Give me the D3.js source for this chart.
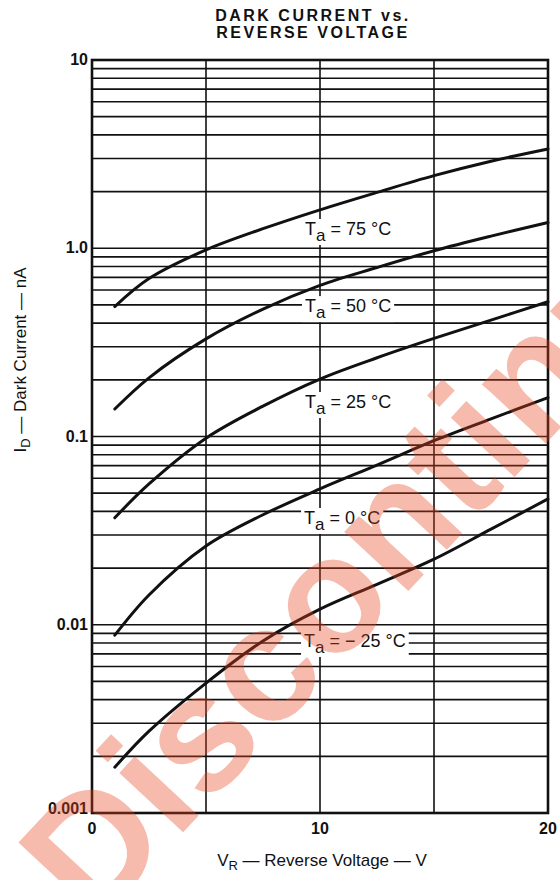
<!DOCTYPE html>
<html>
<head>
<meta charset="utf-8">
<script src="https://cdn.jsdelivr.net/npm/d3@7"></script>
<style>
  body { margin: 0; background: #fff; }
  svg text { font-family: "Liberation Sans", Arial, sans-serif; fill: #111; }
</style>
</head>
<body>
<div id="chart"></div>
<script>
const width = 560;
const height = 880;

const margin = { left: 92, right: 12, top: 60, bottom: 67 };

// reverse voltage (V) where the curves were read
const voltage = [1, 2.5, 5, 7.5, 10, 12.5, 15, 17.5, 20];

// dark current (nA) for each ambient temperature
const current75 = [0.49, 0.69, 0.98, 1.27, 1.6, 1.98, 2.43, 2.9, 3.37];
const current50 = [0.14, 0.205, 0.33, 0.475, 0.635, 0.79, 0.97, 1.16, 1.37];
const current25 = [0.037, 0.056, 0.098, 0.145, 0.202, 0.262, 0.332, 0.415, 0.52];
const current0 = [0.0088, 0.0144, 0.0262, 0.0384, 0.0527, 0.0705, 0.095, 0.124, 0.161];
const currentM25 = [0.00175, 0.00272, 0.0049, 0.0082, 0.0121, 0.0164, 0.0223, 0.0322, 0.0466];

const tempLabels = ["75", "50", "25", "0", "\u2212 25"];

const yTicks = [10, 1, 0.1, 0.01, 0.001];
const yTickLabels = ["10", "1.0", "0.1", "0.01", "0.001"];
const xTicks = [0, 10, 20];
const xGrid = [5, 10, 15];

// where each "Ta = ..." label sits (V, nA at baseline)
const labelV = [9.34, 9.34, 9.34, 9.3, 9.3];
const labelI = [1.176, 0.458, 0.1417, 0.0343, 0.00762];

const series = [current75, current50, current25, current0, currentM25];

let svg = d3.select("#chart")
    .append("svg")
    .attr("width", width)
    .attr("height", height);

let x = d3.scaleLinear()
    .domain([0, 20])
    .range([margin.left, width - margin.right]);

let y = d3.scaleLog()
    .domain([0.001, 10])
    .range([height - margin.bottom, margin.top]);

// minor grid: 1..9 in every decade
let hLines = [];
for (let d = 0.001; d < 10; d *= 10) {
    for (let k = 1; k <= 9; k++) {
        let v = +(d * k).toPrecision(3);
        if (v > 0.001 && v < 10) hLines.push(v);
    }
}

const grid = svg.append("g");
grid.selectAll(".hgrid")
    .data(hLines)
    .join("line")
    .attr("class", "hgrid")
    .attr("x1", x(0)).attr("x2", x(20))
    .attr("y1", d => y(d)).attr("y2", d => y(d))
    .attr("stroke", "#111")
    .attr("stroke-width", 1.6);

grid.selectAll(".vgrid")
    .data(xGrid)
    .join("line")
    .attr("class", "vgrid")
    .attr("x1", d => x(d)).attr("x2", d => x(d))
    .attr("y1", y(10)).attr("y2", y(0.001))
    .attr("stroke", "#111")
    .attr("stroke-width", 1.6);

// temperature labels with white backing so grid lines break around them
const labels = svg.append("g");
series.forEach((s, i) => {
    let g = labels.append("g")
        .attr("transform", `translate(${x(labelV[i])},${y(labelI[i])})`);
    let t = g.append("text")
        .attr("font-size", 18);
    t.append("tspan").text("T");
    t.append("tspan").attr("dy", 6).attr("font-size", 17).text("a");
    t.append("tspan").attr("dy", -6).text(" = " + tempLabels[i] + " \u00b0C");
    let bb = t.node().getBBox();
    g.insert("rect", "text")
        .attr("x", bb.x - 3)
        .attr("y", bb.y)
        .attr("width", bb.width + 6)
        .attr("height", bb.height)
        .attr("fill", "#fff");
});

// frame
svg.append("rect")
    .attr("x", x(0))
    .attr("y", y(10))
    .attr("width", x(20) - x(0))
    .attr("height", y(0.001) - y(10))
    .attr("fill", "none")
    .attr("stroke", "#111")
    .attr("stroke-width", 2.6);

let line = d3.line()
    .x((d, i) => x(voltage[i]))
    .y(d => y(d))
    .curve(d3.curveCatmullRom.alpha(0.5));

svg.selectAll(".curve")
    .data(series)
    .join("path")
    .attr("class", "curve")
    .attr("d", line)
    .attr("fill", "none")
    .attr("stroke", "#111")
    .attr("stroke-width", 3)
    .attr("stroke-linecap", "round");

// tick labels
svg.selectAll(".ylab")
    .data(yTicks)
    .join("text")
    .attr("class", "ylab")
    .attr("x", x(0) - 4)
    .attr("y", (d, i) => y(d) + 5 - (i == 4 ? 4 : 0))
    .attr("text-anchor", "end")
    .attr("font-size", 16)
    .attr("font-weight", "bold")
    .text((d, i) => yTickLabels[i]);

svg.selectAll(".xlab")
    .data(xTicks)
    .join("text")
    .attr("class", "xlab")
    .attr("x", d => x(d))
    .attr("y", y(0.001) + 21)
    .attr("text-anchor", "middle")
    .attr("font-size", 16)
    .attr("font-weight", "bold")
    .text(d => d);

// axis titles
let xt = svg.append("text")
    .attr("x", 322)
    .attr("y", 866)
    .attr("text-anchor", "middle")
    .attr("font-size", 17);
xt.append("tspan").text("V");
xt.append("tspan").attr("dy", 4).attr("font-size", 13).text("R");
xt.append("tspan").attr("dy", -4).text(" \u2014 Reverse Voltage \u2014 V");

let yt = svg.append("text")
    .attr("transform", "translate(26,360) rotate(-90)")
    .attr("text-anchor", "middle")
    .attr("font-size", 17);
yt.append("tspan").text("I");
yt.append("tspan").attr("dy", 4).attr("font-size", 13).text("D");
yt.append("tspan").attr("dy", -4).text(" \u2014 Dark Current \u2014 nA");

// title
svg.selectAll(".title")
    .data(["DARK CURRENT vs.", "REVERSE VOLTAGE"])
    .join("text")
    .attr("class", "title")
    .attr("x", 313)
    .attr("y", (d, i) => 21 + i * 17)
    .attr("text-anchor", "middle")
    .attr("font-size", 16)
    .attr("font-weight", "bold")
    .attr("letter-spacing", 2.5)
    .text(d => d);

// red watermark
svg.append("text")
    .attr("transform", "translate(94,928) rotate(-47)")
    .attr("font-size", 165)
    .attr("font-weight", "bold")
    .style("fill", "#e8451e")
    .attr("opacity", 0.36)
    .text("Discontinued");
</script>
</body>
</html>
